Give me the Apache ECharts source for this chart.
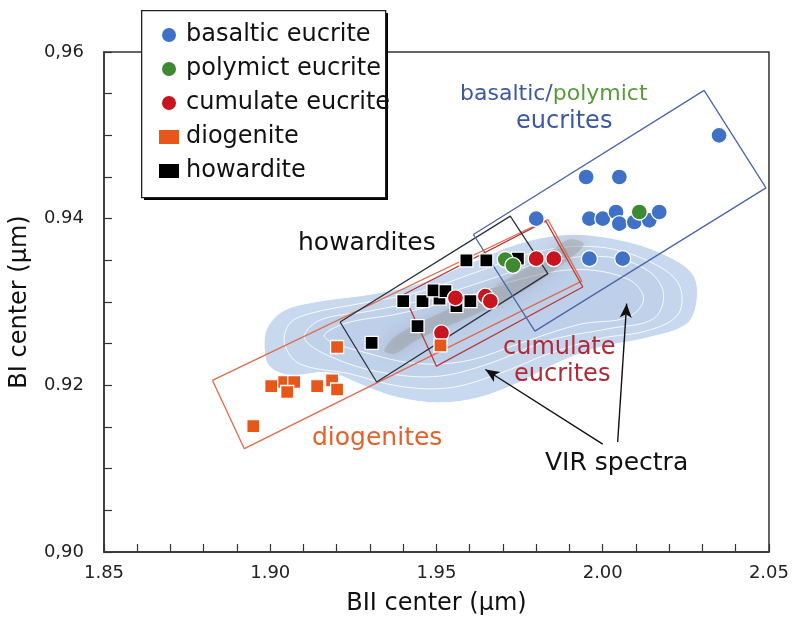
<!DOCTYPE html>
<html><head><meta charset="utf-8">
<script src="https://cdn.jsdelivr.net/npm/echarts@6/dist/echarts.min.js"></script>
<style>html,body{margin:0;padding:0;background:#fff}#c{width:792px;height:621px}</style>
</head><body><div id="c"></div>
<script>
// ---- data ----
const seriesNames = ['basaltic eucrite','polymict eucrite','cumulate eucrite','diogenite','howardite'];
const basaltic = [[2.035,0.950],[1.995,0.945],[2.005,0.945],[1.980,0.940],[1.996,0.940],[2.000,0.940],[2.004,0.9408],[2.005,0.9394],[2.0095,0.9396],[2.014,0.9398],[2.017,0.9408],[1.996,0.9352],[2.006,0.9352]];
const polymict = [[2.011,0.9408],[1.9707,0.9351],[1.973,0.9344]];
const cumulate = [[1.980,0.9352],[1.9853,0.9352],[1.9557,0.9305],[1.9647,0.9307],[1.9662,0.9301],[1.9515,0.9263]];
const diogenite = [[1.9201,0.9246],[1.9512,0.9248],[1.9003,0.9199],[1.9042,0.9204],[1.9072,0.9204],[1.9051,0.9192],[1.9141,0.9199],[1.9186,0.9206],[1.9201,0.9195],[1.8949,0.9151]];
const howardite = [[1.959,0.935],[1.965,0.935],[1.9745,0.9352],[1.940,0.9301],[1.9458,0.9301],[1.9509,0.9304],[1.9602,0.9301],[1.9491,0.9314],[1.9527,0.9313],[1.956,0.9295],[1.9443,0.9271],[1.9305,0.9251]];

// group outlines (corners in data units)
const boxBasaltic = [[1.9611,0.9381],[2.0305,0.9554],[2.0491,0.9437],[1.9796,0.9265]];
const boxHowardite = [[1.921,0.9276],[1.9722,0.9403],[1.9835,0.9334],[1.932,0.9204]];
const boxCumulate = [[1.9401,0.9309],[1.9829,0.9397],[1.994,0.9318],[1.950,0.9223]];
const boxDiogenite = [[1.8826,0.9206],[1.9835,0.9399],[1.9937,0.9325],[1.8922,0.9124]];

// VIR spectra density contours (data units)
const virOuter = [[1.8982,0.9245],[1.8991,0.9269],[1.9042,0.929],[1.9147,0.9301],[1.9296,0.9309],[1.9446,0.9322],[1.9596,0.9346],[1.9746,0.937],[1.9895,0.9381],[2.0045,0.9375],[2.018,0.9358],[2.027,0.9334],[2.0284,0.9304],[2.0254,0.9274],[2.0135,0.9257],[1.9985,0.9245],[1.9865,0.9227],[1.9746,0.9203],[1.9626,0.9185],[1.9506,0.9179],[1.9386,0.9185],[1.9296,0.9197],[1.9177,0.9215],[1.9057,0.9212],[1.8997,0.9223]];
const virC1 = [[1.9043,0.925],[1.9058,0.9274],[1.9118,0.9286],[1.9268,0.9298],[1.9448,0.9312],[1.9628,0.9337],[1.9808,0.9361],[1.9988,0.9366],[2.0138,0.9349],[2.0228,0.9322],[2.0228,0.9286],[2.0138,0.9266],[1.9988,0.9256],[1.9838,0.9238],[1.9688,0.9214],[1.9538,0.9197],[1.9388,0.9199],[1.9238,0.9214],[1.9088,0.9226]];
const virC2 = [[1.9103,0.9256],[1.9148,0.9278],[1.9298,0.9289],[1.9478,0.9304],[1.9658,0.9327],[1.9838,0.9349],[2.0018,0.9354],[2.0138,0.9337],[2.0183,0.931],[2.0153,0.928],[2.0018,0.9268],[1.9838,0.9254],[1.9658,0.9226],[1.9508,0.9211],[1.9358,0.9214],[1.9208,0.923]];
const virC3 = [[1.9163,0.9258],[1.9223,0.9274],[1.9388,0.9286],[1.9568,0.9304],[1.9748,0.9327],[1.9928,0.9339],[2.0078,0.9327],[2.0123,0.9304],[2.0078,0.9282],[1.9928,0.9273],[1.9748,0.925],[1.9598,0.923],[1.9448,0.9226],[1.9298,0.9238]];
const virRidge = [[1.9343,0.9242],[1.9388,0.9262],[1.9538,0.9292],[1.9688,0.9322],[1.9823,0.9354],[1.9898,0.9375],[1.9943,0.9369],[1.9868,0.9342],[1.9748,0.931],[1.9598,0.9282],[1.9448,0.9256],[1.9373,0.9238]];

// arrows from the "VIR spectra" label
const arrows = [[[2.000,0.91295],[1.9647,0.9219]],[[2.0045,0.9132],[2.0072,0.9298]]];

const xTicks = [1.85,1.90,1.95,2.00,2.05];
const xTickLabels = ['1.85','1.90','1.95','2.00','2.05'];
const yTicks = [0.90,0.92,0.94,0.96];
const yTickLabels = ['0,90','0.92','0.94','0,96'];

// ---- chart ----
const FONT = 'DejaVu Sans';
const COLORS = {basaltic:'#3f72c6', polymict:'#3f8a30', cumulate:'#c8141e', diogenite:'#e8571a', howardite:'#000000'};

function polySeries(pts, fill, stroke, lw, z, extra){
  return {
    type:'custom', silent:true, z:z, clip:true,
    data: pts,
    renderItem: function(params, api){
      if (params.dataIndex !== 0) return null;
      const p = pts.map(d => api.coord(d));
      return {type:'polygon', shape:{points:p, smooth:0.35}, style:Object.assign({fill:fill, stroke:stroke, lineWidth:lw}, extra||{})};
    }
  };
}
function boxSeries(pts, color){
  return {type:'line', silent:true, z:3, symbol:'none', data: pts.concat([pts[0]]), lineStyle:{color:color, width:1.3}, animation:false};
}
function scatter(name, data, color, symbol, size){
  return {name:name, type:'scatter', z:5, symbol:symbol, symbolSize:size, data:data,
    itemStyle:{color:color, borderColor:'#fff', borderWidth:1.3, opacity:1}};
}

const chart = echarts.init(document.getElementById('c'), null, {renderer:'canvas'});
const option = {
  animation:false,
  backgroundColor:'#fff',
  textStyle:{fontFamily:FONT},
  grid:{left:104, right:20, top:52, bottom:65, show:true, borderColor:'#333', borderWidth:1.5, backgroundColor:'transparent'},
  legend:{
    orient:'vertical', left:141, top:10, z:20,
    data:[
      {name:'basaltic eucrite', icon:'circle'},
      {name:'polymict eucrite', icon:'circle'},
      {name:'cumulate eucrite', icon:'circle'},
      {name:'diogenite', icon:'rect'},
      {name:'howardite', icon:'rect'}],
    itemWidth:20, itemHeight:14, itemGap:10,
    padding:[13,2,14,18],
    backgroundColor:'transparent', borderWidth:0,
    selectedMode:false,
    textStyle:{fontFamily:FONT, fontSize:24, color:'#111', lineHeight:24, padding:[0,0,0,2]},
    itemStyle:{borderWidth:0}
  },
  xAxis:{
    type:'value', min:1.85, max:2.05, interval:0.05,
    name:'BII center (μm)', nameLocation:'middle', nameGap:40,
    nameTextStyle:{fontFamily:FONT, fontSize:24, color:'#111'},
    axisLine:{lineStyle:{color:'#333', width:1.5}},
    axisTick:{inside:true, length:8, lineStyle:{color:'#333', width:1.2}},
    minorTick:{show:true, splitNumber:5, length:8, lineStyle:{color:'#333', width:1.2}},
    splitLine:{show:false},
    axisLabel:{fontFamily:FONT, fontSize:18, color:'#222', margin:12,
      formatter:v => { const i = xTicks.findIndex(t => Math.abs(t-v) < 1e-6); return i>=0 ? xTickLabels[i] : ''; }}
  },
  yAxis:{
    type:'value', min:0.90, max:0.96, interval:0.02,
    name:'BI center (μm)', nameLocation:'middle', nameGap:72,
    nameTextStyle:{fontFamily:FONT, fontSize:24, color:'#111'},
    axisLine:{lineStyle:{color:'#333', width:1.5}},
    axisTick:{inside:true, length:8, lineStyle:{color:'#333', width:1.2}},
    minorTick:{show:true, splitNumber:4, length:8, lineStyle:{color:'#333', width:1.2}},
    splitLine:{show:false},
    axisLabel:{fontFamily:FONT, fontSize:18, color:'#222', margin:20,
      formatter:v => { const i = yTicks.findIndex(t => Math.abs(t-v) < 1e-6); return i>=0 ? yTickLabels[i] : ''; }}
  },
  series:[
    polySeries(virOuter, '#c8d8ee', '#ffffff', 1, 1),
    polySeries(virC1, '#c4d5ec', 'rgba(255,255,255,0.85)', 1, 1),
    polySeries(virC2, '#c0d2ea', 'rgba(255,255,255,0.85)', 1, 1),
    polySeries(virC3, '#bdcfe9', 'rgba(255,255,255,0.85)', 1, 1),
    polySeries(virRidge, 'rgba(150,150,150,0.38)', null, 0, 2, {shadowBlur:14, shadowColor:'rgba(130,130,130,0.7)'}),
    boxSeries(boxDiogenite, '#e06a4a'),
    boxSeries(boxCumulate, '#b83a3a'),
    boxSeries(boxHowardite, '#2b3140'),
    Object.assign(boxSeries(boxBasaltic, '#4a66a8'), {
      markLine:{silent:true, symbol:['none','arrow'], symbolSize:[9,14],
        lineStyle:{color:'#111', width:1.4, type:'solid'}, label:{show:false},
        data: arrows.map(a => [{coord:a[0]},{coord:a[1]}])}
    }),
    scatter('basaltic eucrite', basaltic, COLORS.basaltic, 'circle', 16),
    scatter('howardite', howardite, COLORS.howardite, 'rect', 13),
    scatter('cumulate eucrite', cumulate, COLORS.cumulate, 'circle', 16),
    scatter('polymict eucrite', polymict, COLORS.polymict, 'circle', 16),
    scatter('diogenite', diogenite, COLORS.diogenite, 'rect', 13)
  ],
  graphic:[
    // legend frame with drop shadow
    {type:'rect', left:144, top:13, z:10, shape:{width:244, height:187}, style:{fill:'#000'}},
    {type:'rect', left:141, top:10, z:11, shape:{width:244, height:187}, style:{fill:'#fff', stroke:'#222', lineWidth:1.3}},
    {type:'text', left:460, top:83, z:100, style:{text:'{b|basaltic/}{g|polymict}', font:'22px "DejaVu Sans"',
      rich:{b:{fill:'#3d57a3', font:'22px "DejaVu Sans"'}, g:{fill:'#5a9a3a', font:'22px "DejaVu Sans"'}}}},
    {type:'text', left:516, top:110, z:100, style:{text:'eucrites', fill:'#3d57a3', font:'24px "DejaVu Sans"'}},
    {type:'text', left:298, top:231, z:100, style:{text:'howardites', fill:'#111', font:'25px "DejaVu Sans"'}},
    {type:'text', left:503, top:336, z:100, style:{text:'cumulate', fill:'#b02a36', font:'24px "DejaVu Sans"'}},
    {type:'text', left:514, top:363, z:100, style:{text:'eucrites', fill:'#b02a36', font:'24px "DejaVu Sans"'}},
    {type:'text', left:312, top:426, z:100, style:{text:'diogenites', fill:'#e2622c', font:'25px "DejaVu Sans"'}},
    {type:'text', left:545, top:451, z:100, style:{text:'VIR spectra', fill:'#111', font:'25px "DejaVu Sans"'}}
  ]
};
chart.setOption(option);
</script></body></html>
